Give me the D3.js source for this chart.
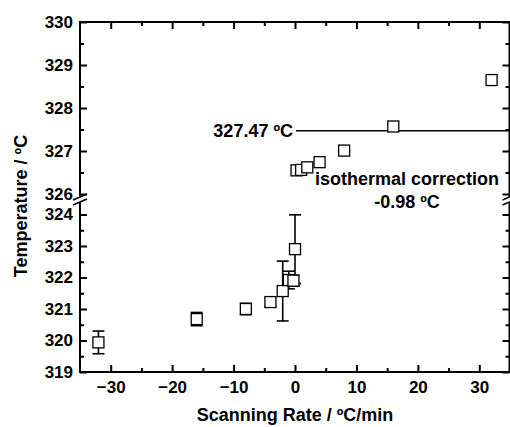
<!DOCTYPE html>
<html lang="en">
<head>
<meta charset="UTF-8">
<title>Temperature vs scanning rate</title>
<style>
  body { margin: 0; background: #fff; }
  text { font-family: "Liberation Sans", Arial, sans-serif; font-weight: bold; fill: #000; }
</style>
</head>
<body>
<div id="chart"></div>
<script src="https://d3js.org/d3.v7.min.js"></script>
<script>
// heating rates (upper panel, after isothermal correction)
const upRate = [0.25, 1, 2, 4, 8, 16, 32];
const upTemp = [326.55, 326.56, 326.62, 326.74, 327.01, 327.57, 328.65];

// cooling rates (lower panel) with error bars
const lowRate = [-32, -16, -8, -4, -2, -1, -0.25, 0];
const lowTemp = [319.94, 320.68, 321.0, 321.22, 321.57, 321.92, 321.9, 322.9];
const lowErr  = [0.36, 0.21, 0.18, 0.14, 0.95, 0.28, 0.17, 1.09];

const xTicks = [-30, -20, -10, 0, 10, 20, 30];
const xMinor = [-25, -15, -5, 5, 15, 25];
const upTicks = [326, 327, 328, 329, 330];
const upMinor = [326.5, 327.5, 328.5, 329.5];
const lowTicks = [319, 320, 321, 322, 323, 324];
const lowMinor = [319.5, 320.5, 321.5, 322.5, 323.5];
const refTemp = 327.47;

const W = 510, H = 427;
const pLeft = 80, pRight = 509.5, pTop = 22, pBottom = 372;

const svg = d3.select("#chart").append("svg")
    .attr("width", W).attr("height", H);

const x = d3.scaleLinear().domain([-35, 35]).range([pLeft, 510]);
const yTop = d3.scaleLinear().domain([326, 330]).range([194, pTop]);
const yBot = d3.scaleLinear().domain([319, 324]).range([pBottom, 214.5]);

const breakA = 197, breakB = 202;

// tick helper
function ticks(axisFn, scale, vals, size, pos, labels, pad) {
    const g = svg.append("g").attr("transform", pos)
        .call(axisFn(scale).tickValues(vals).tickSize(size).tickSizeOuter(0)
            .tickPadding(pad || 7)
            .tickFormat(labels ? d3.format("d") : ""));
    g.select(".domain").remove();
    g.selectAll("line").attr("stroke", "#000").attr("stroke-width", 2);
    g.selectAll("text").style("font-size", "17px");
    return g;
}

// bottom / top x ticks
ticks(d3.axisBottom, x, xTicks, -7, `translate(0,${pBottom})`, true, 9);
ticks(d3.axisBottom, x, xMinor, -4, `translate(0,${pBottom})`, false);
ticks(d3.axisTop, x, xTicks, -7, `translate(0,${pTop})`, false);
ticks(d3.axisTop, x, xMinor, -4, `translate(0,${pTop})`, false);

// left / right y ticks, two segments
ticks(d3.axisLeft, yTop, upTicks, -7, `translate(${pLeft},0)`, true);
ticks(d3.axisLeft, yTop, upMinor, -4, `translate(${pLeft},0)`, false);
ticks(d3.axisLeft, yBot, lowTicks, -7, `translate(${pLeft},0)`, true);
ticks(d3.axisLeft, yBot, lowMinor, -4, `translate(${pLeft},0)`, false);
ticks(d3.axisRight, yTop, upTicks, -7, `translate(${pRight},0)`, false);
ticks(d3.axisRight, yTop, upMinor, -4, `translate(${pRight},0)`, false);
ticks(d3.axisRight, yBot, lowTicks, -7, `translate(${pRight},0)`, false);
ticks(d3.axisRight, yBot, lowMinor, -4, `translate(${pRight},0)`, false);

// frame
const frame = svg.append("g").attr("stroke", "#000").attr("stroke-width", 2);
frame.append("line").attr("x1", pLeft - 1).attr("x2", pRight + 1).attr("y1", pTop).attr("y2", pTop);
frame.append("line").attr("x1", pLeft - 1).attr("x2", pRight + 1).attr("y1", pBottom).attr("y2", pBottom);
[pLeft, pRight].forEach(function (xx) {
    frame.append("line").attr("x1", xx).attr("x2", xx).attr("y1", pTop).attr("y2", breakA);
    frame.append("line").attr("x1", xx).attr("x2", xx).attr("y1", breakB).attr("y2", pBottom + 1);
    [breakA, breakB].forEach(function (yy) {
        frame.append("line").attr("stroke-width", 1.5)
            .attr("x1", xx - 7).attr("y1", yy + 3)
            .attr("x2", xx + 7).attr("y2", yy - 3);
    });
});

// reference line at 327.47
svg.append("line")
    .attr("x1", 296).attr("x2", pRight)
    .attr("y1", yTop(refTemp)).attr("y2", yTop(refTemp))
    .attr("stroke", "#000").attr("stroke-width", 1.5);
svg.append("text")
    .attr("x", 293).attr("y", yTop(refTemp)).attr("dy", "0.35em")
    .attr("text-anchor", "end").style("font-size", "18px")
    .text("327.47 ºC");

svg.append("text").attr("x", 407).attr("y", 185)
    .attr("text-anchor", "middle").style("font-size", "18px")
    .text("isothermal correction");
svg.append("text").attr("x", 407).attr("y", 208)
    .attr("text-anchor", "middle").style("font-size", "18px")
    .text("-0.98 ºC");

// error bars (lower panel)
const eb = svg.append("g").attr("stroke", "#000").attr("stroke-width", 1.6);
lowRate.forEach(function (r, i) {
    const cx = x(r), hi = yBot(lowTemp[i] + lowErr[i]), lo = yBot(lowTemp[i] - lowErr[i]);
    eb.append("line").attr("x1", cx).attr("x2", cx).attr("y1", hi).attr("y2", lo);
    eb.append("line").attr("x1", cx - 6).attr("x2", cx + 6).attr("y1", hi).attr("y2", hi);
    eb.append("line").attr("x1", cx - 6).attr("x2", cx + 6).attr("y1", lo).attr("y2", lo);
});

// square markers
const s = 11;
function squares(rates, temps, yScale) {
    svg.append("g").selectAll("rect")
        .data(rates.map(function (r, i) { return [r, temps[i]]; }))
        .enter().append("rect")
        .attr("x", function (d) { return x(d[0]) - s / 2; })
        .attr("y", function (d) { return yScale(d[1]) - s / 2; })
        .attr("width", s).attr("height", s)
        .attr("fill", "#fff").attr("stroke", "#000").attr("stroke-width", 1.3);
}
squares(lowRate, lowTemp, yBot);
squares(upRate, upTemp, yTop);

// axis titles
svg.append("text")
    .attr("x", x(0)).attr("y", 421)
    .attr("text-anchor", "middle").style("font-size", "18px")
    .text("Scanning Rate / ºC/min");
svg.append("text")
    .attr("transform", "translate(27,206) rotate(-90)")
    .attr("text-anchor", "middle").style("font-size", "18px")
    .text("Temperature / ºC");
</script>
</body>
</html>
